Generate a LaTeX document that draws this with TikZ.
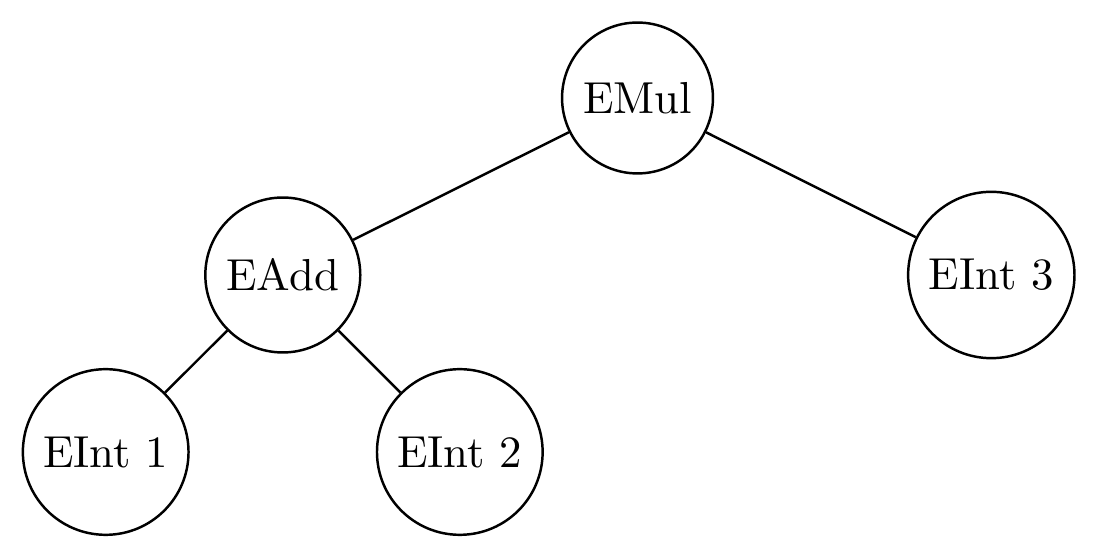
\documentclass[tikz,border=0pt]{standalone}
\begin{document}
\begin{tikzpicture}[x=0.2232pt,y=-0.2232pt,
  treenode/.style={circle,draw,line width=0.55pt,inner sep=3.3pt},
  treeedge/.style={line width=0.55pt}]
\useasboundingbox (0,0) rectangle (1097,558);
\node[treenode] (mul) at (637.5,98) {EMul};
\node[treenode] (add) at (282.8,275) {EAdd};
\node[treenode] (i3) at (991.3,275) {EInt 3};
\node[treenode] (i1) at (105.7,452) {EInt 1};
\node[treenode] (i2) at (459.8,452) {EInt 2};
\draw[treeedge] (mul) -- (add);
\draw[treeedge] (mul) -- (i3);
\draw[treeedge] (add) -- (i1);
\draw[treeedge] (add) -- (i2);
\end{tikzpicture}
\end{document}
